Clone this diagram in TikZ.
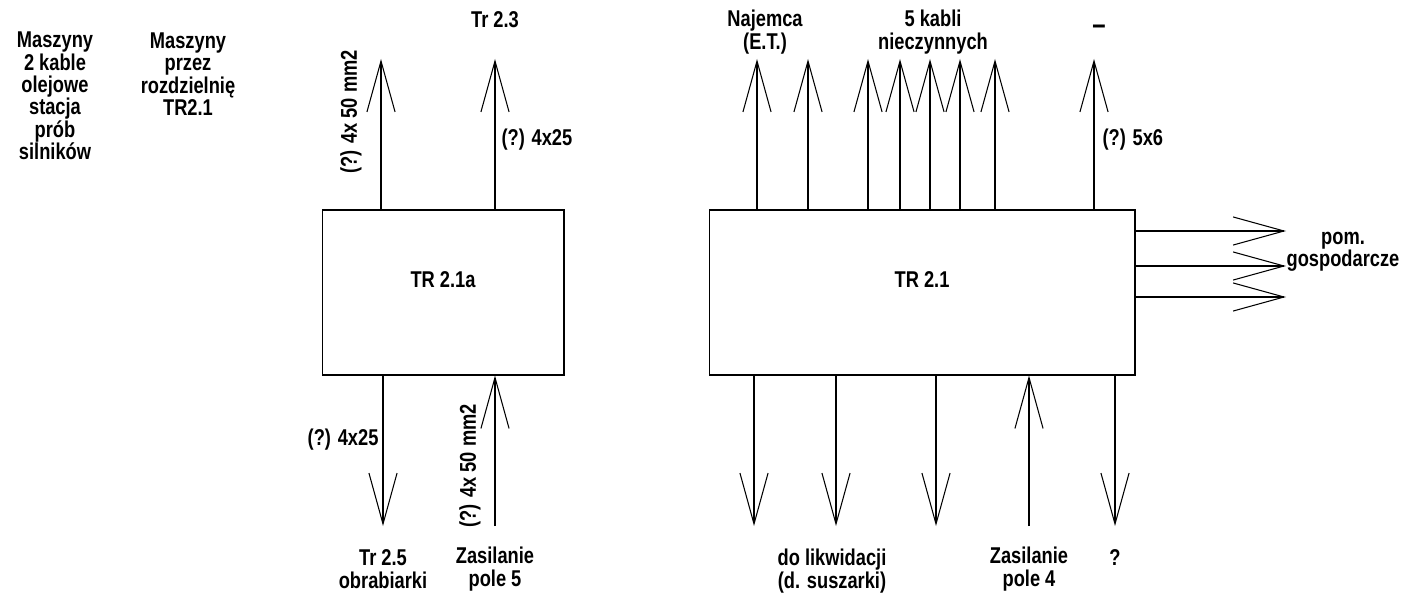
\documentclass[tikz,border=0pt]{standalone}
\usepackage{fontspec}
\setmainfont{Liberation Sans}[UprightFont={* Bold}, FakeStretch=0.8]
\usetikzlibrary{arrows.meta}

\begin{document}
\begin{tikzpicture}[
  x=0.02cm,y=-0.02cm,
  line width=0.6pt,
  font=\fontsize{13}{12.7}\selectfont,
  box/.style={draw, minimum height=3.3cm, text depth=15pt},
  feed/.style={-{Straight Barb[length=29pt,width=16pt]}},
  lbl/.style={align=center, inner sep=0pt}
]
\useasboundingbox (0,0) rectangle (1402,598);

% rozdzielnie
\node[box, minimum width=4.84cm] (tra) at (443,292.5) {TR 2.1a};
\node[box, minimum width=8.52cm] (trb) at (922,292.5) {TR 2.1};

% TR 2.1a - odejscia gora
\coordinate (ta1) at (381,59);
\coordinate (ta2) at (495,59);
\draw[feed] (ta1 |- tra.north) -- (ta1);
\draw[feed] (ta2 |- tra.north) -- (ta2);

% TR 2.1a - dol
\coordinate (ba1) at (383,526);
\coordinate (ba2) at (495,526);
\draw[feed] (ba1 |- tra.south) -- (ba1);
\draw[feed] (ba2) -- (ba2 |- tra.south);

% TR 2.1 - odejscia gora
\foreach \x [count=\i] in {757,808,868,900,930,960,995,1094} {
  \coordinate (tb\i) at (\x,59);
  \draw[feed] (tb\i |- trb.north) -- (tb\i);
}

% TR 2.1 - dol
\foreach \x [count=\i] in {754,836,936,1115} {
  \coordinate (bb\i) at (\x,526);
  \draw[feed] (bb\i |- trb.south) -- (bb\i);
}
\coordinate (zas4) at (1029,526);
\draw[feed] (zas4) -- (zas4 |- trb.south);

% TR 2.1 - prawo
\foreach \y [count=\i] in {231,266,297} {
  \coordinate (rb\i) at (1286,\y);
  \draw[feed] (rb\i -| trb.east) -- (rb\i);
}

% opisy
\node[lbl] (mas1) at (55,96) {Maszyny\\2 kable\\olejowe\\stacja\\prób\\silników};
\node[lbl] (mas2) at (188,74) {Maszyny\\przez\\rozdzielnię\\TR2.1};

\node[lbl, rotate=90] (ka1) at (351,112) {(?) 4x 50 mm2};
\node[lbl] (tr23) at (495,20) {Tr 2.3};
\node[lbl, anchor=west] (ka2) at (501,140) {(?) 4x25};
\node[lbl, anchor=east] (ka3) at (379,440) {(?) 4x25};
\node[lbl, rotate=90] (ka4) at (470,466) {(?) 4x 50 mm2};
\node[lbl] (tr25) at (383,569) {Tr 2.5\\obrabiarki};
\node[lbl] (pole5) at (495,569) {Zasilanie\\pole 5};

\node[lbl] (naj) at (765,32) {Najemca\\(E.T.)};
\node[lbl] (kab5) at (933,32) {5 kabli\\nieczynnych};
\node[lbl, anchor=base, font=\fontsize{17}{17}\selectfont] (nic) at (1099,34.5) {–};
\node[lbl, anchor=west] (ka5) at (1102,140) {(?) 5x6};
\node[lbl] (gosp) at (1343,252) {pom.\\gospodarcze};

\node[lbl] (likw) at (832,571) {do likwidacji\\(d. suszarki)};
\node[lbl] (pole4) at (1029,569) {Zasilanie\\pole 4};
\node[lbl] (nn) at (1115,558) {?};
\end{tikzpicture}
\end{document}
